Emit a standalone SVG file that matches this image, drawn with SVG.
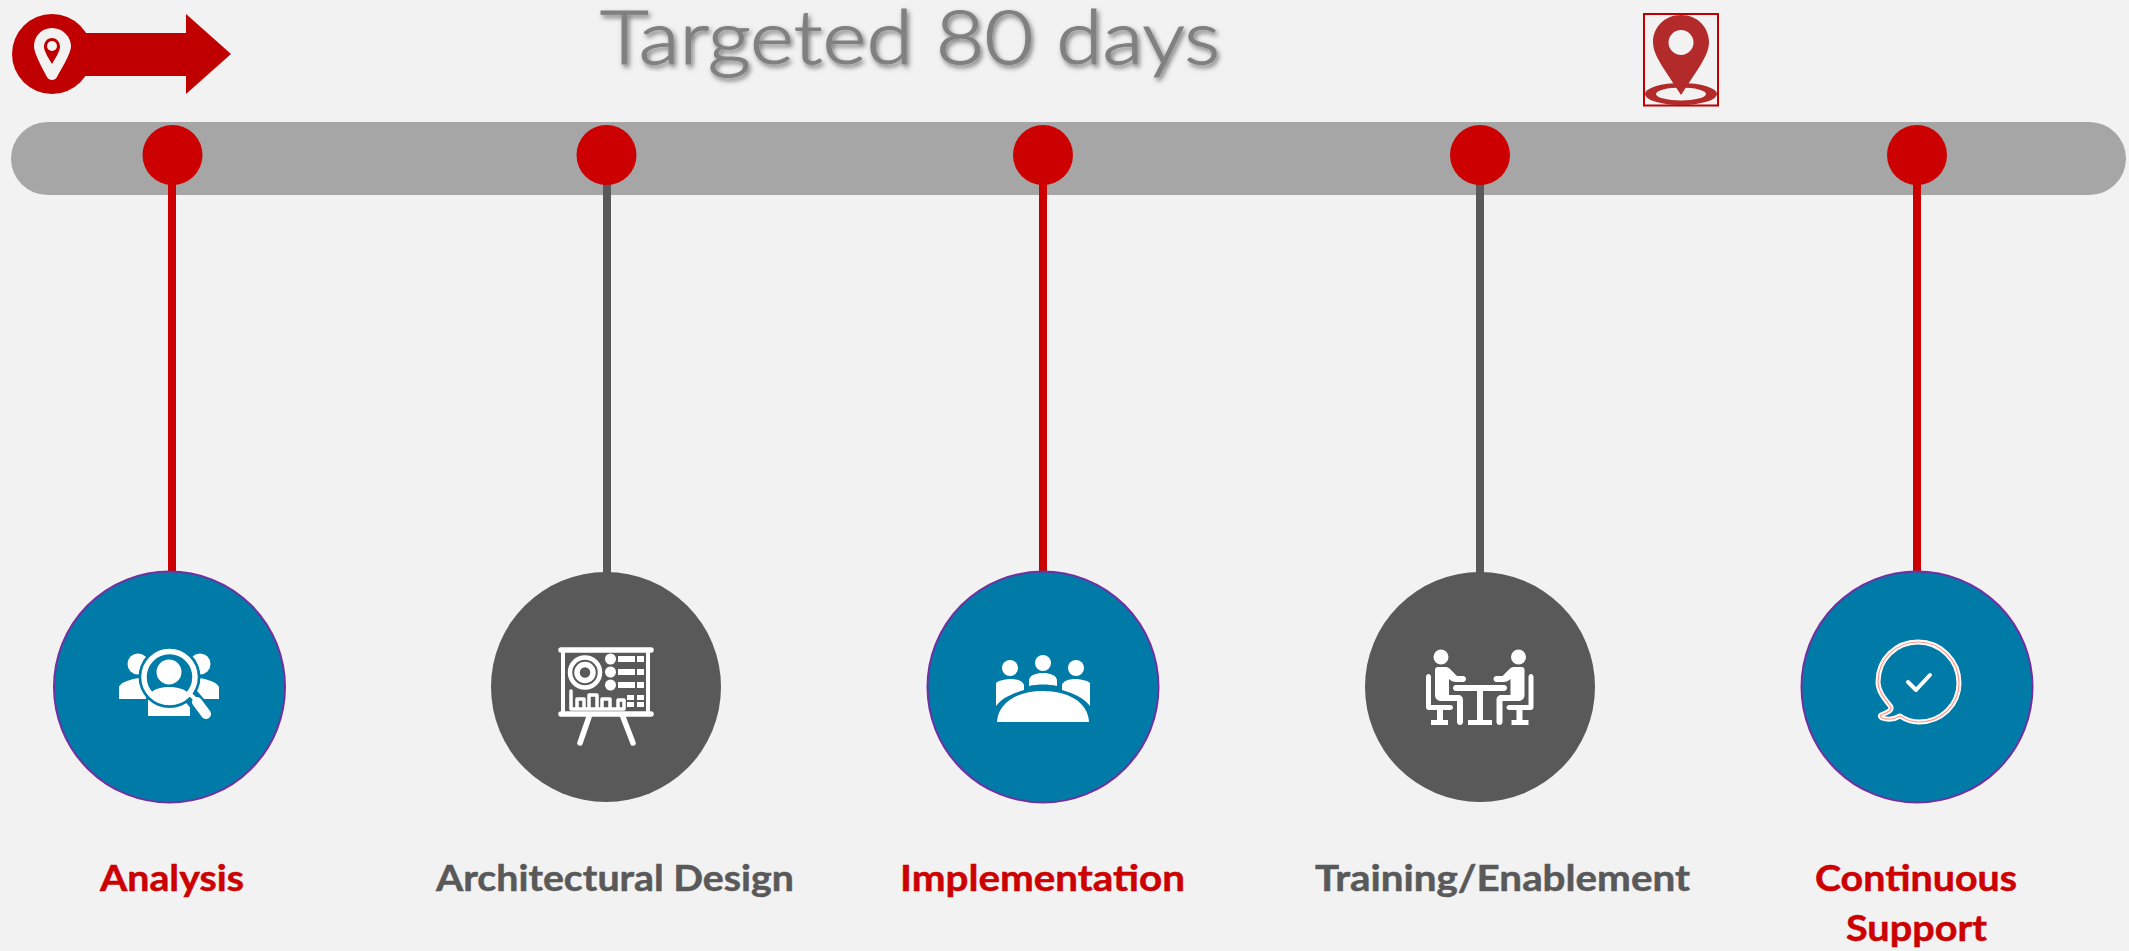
<svg xmlns="http://www.w3.org/2000/svg" width="2129" height="951" viewBox="0 0 2129 951">
<defs>
<style>
.lbl{font-family:"Lato","Noto Sans",sans-serif;font-weight:700;font-size:37px;stroke-width:.5px}
.r{fill:#cc0000;stroke:#cc0000}.g{fill:#595959;stroke:#595959}
.blue{fill:#007ba7;stroke:#7030a0;stroke-width:2}
.dark{fill:#595959}
.dot{fill:#cc0000}
.w{fill:#fff}
.wl{fill:none;stroke:#fff;stroke-linecap:round;stroke-linejoin:round}
</style>
<filter id="sh" x="-5%" y="-20%" width="110%" height="150%"><feDropShadow dx="2" dy="3" stdDeviation="2.500" flood-color="#000" flood-opacity="0.5"/></filter>
</defs>
<rect width="2129" height="951" fill="#f2f2f2"/>
<g id="start-arrow">
<path d="M85 33H186V14L231 54L186 94V76H85Z" fill="#c00000"/>
<circle cx="52" cy="54" r="40" fill="#c00000"/>
<path fill="#f2f2f2" d="M52 28C41 28 34 37 34 46C34 54 44 71 47 77C49 81 55 81 57 77C60 71 71 54 71 46C71 37 63 28 52 28Z"/>
<path fill="#c00000" d="M52 38C47 38 44 42 44 47C44 51 49 59 52 64C55 59 60 51 60 47C60 42 57 38 52 38Z"/>
<circle cx="52" cy="46" r="5" fill="#f2f2f2"/>
</g>
<g id="title"><text x="600" y="64" font-family="Lato,'Noto Sans',sans-serif" font-weight="300" font-size="74" fill="#808080" stroke="#808080" stroke-width="1.200" filter="url(#sh)" textLength="620" lengthAdjust="spacingAndGlyphs">Targeted 80 days</text></g>
<g id="location-pin">
<rect x="1644" y="14" width="74" height="91.500" fill="none" stroke="#c00000" stroke-width="2"/>
<path fill="#b22a2a" fill-rule="evenodd" d="M1645 94a36 11 0 1 0 72 0a36 11 0 1 0-72 0ZM1656 94a25 6.500 0 1 1 50 0a25 6.500 0 1 1-50 0Z"/>
<path fill="#b22a2a" fill-rule="evenodd" d="M1681 15C1664 15 1653 28 1653 42C1653 51 1658 59 1662 66L1681 95L1700 66C1704 59 1709 51 1709 42C1709 28 1698 15 1681 15ZM1681 30a12.500 12.500 0 1 1 0 25a12.500 12.500 0 1 1 0-25Z"/>
</g>
<g id="timeline-bar"><rect x="11" y="122" width="2115" height="73" rx="36.500" fill="#a6a6a6"/></g>
<g id="connectors">
<rect x="168" y="155" width="8" height="418" fill="#cc0000"/>
<rect x="603" y="155" width="8" height="418" fill="#595959"/>
<rect x="1039" y="155" width="8" height="418" fill="#cc0000"/>
<rect x="1476" y="155" width="8" height="418" fill="#595959"/>
<rect x="1913" y="155" width="8" height="418" fill="#cc0000"/>
</g>
<g id="dots">
<circle class="dot" cx="172.500" cy="155" r="30"/>
<circle class="dot" cx="606.500" cy="155" r="30"/>
<circle class="dot" cx="1043" cy="155" r="30"/>
<circle class="dot" cx="1480" cy="155" r="30"/>
<circle class="dot" cx="1917" cy="155" r="30"/>
</g>
<g id="node-analysis">
<circle class="blue" cx="169.500" cy="687" r="115.500"/>
<circle class="w" cx="138" cy="664" r="10.500"/><circle class="w" cx="200" cy="664" r="10.500"/>
<path class="w" d="M119 699V687C121 681 136 678 146 677V699ZM219 699V687C217 681 202 678 192 677V699Z"/>
<rect class="w" x="148" y="700" width="42" height="16"/>
<circle cx="169.500" cy="677" r="31" fill="#007ba7"/>
<path d="M190 695L207 715" stroke="#007ba7" stroke-width="16" stroke-linecap="round"/>
<circle cx="169.500" cy="677" r="25.500" fill="none" stroke="#fff" stroke-width="5.500"/>
<circle class="w" cx="169" cy="672" r="12.500"/>
<path class="w" d="M150 694C154 689 160 687 169 687C178 687 185 689 189 694C184 700 177 703 169 703C161 703 155 700 150 694Z"/>
<path class="wl" d="M190 694L195 699" stroke-width="4"/>
<path class="wl" d="M197 702L206 714" stroke-width="10"/>
</g>
<g id="node-architectural-design">
<circle class="dark" cx="606" cy="687" r="115"/>
<path class="wl" d="M561 650H651M561 714H651" stroke-width="5.500"/>
<path class="wl" d="M563 650V714M648 650V714" stroke-width="4"/>
<path class="wl" d="M589 717L580 743M623 717L633 743" stroke-width="5.500"/>
<circle cx="585" cy="672.500" r="15" fill="none" stroke="#fff" stroke-width="4.500"/>
<circle cx="585" cy="672.500" r="8" fill="none" stroke="#fff" stroke-width="5.500"/>
<circle class="w" cx="610.500" cy="659" r="5.500"/><circle class="w" cx="610.500" cy="672" r="5.500"/><circle class="w" cx="610.500" cy="685" r="5.500"/>
<path class="w" d="M618 656h17v6h-17zM637 656h7v6h-7zM618 669h17v6h-17zM637 669h7v6h-7zM618 682h17v6h-17zM637 682h7v6h-7zM627 695h7v5h-7zM637 695h7v5h-7zM627 702h7v5h-7zM637 702h7v5h-7z"/>
<path class="wl" d="M571 691V709H624V700H618V708M577 708V699H584V708M589 708V695H597V708M602 708V699H610V708" stroke-width="3.500"/>
</g>
<g id="node-implementation">
<circle class="blue" cx="1043" cy="687" r="115.500"/>
<circle class="w" cx="1010" cy="668" r="8"/><circle class="w" cx="1043" cy="663" r="8"/><circle class="w" cx="1076" cy="668" r="8"/>
<path class="w" d="M1029 686V680C1030 675 1036 673 1043 673C1050 673 1056 675 1057 680V686C1048 684 1038 684 1029 686Z"/>
<path class="w" d="M996 706V683C999 680 1007 679 1011 679C1017 679 1023 681 1024 685V690C1011 694 1002 698 996 706Z"/>
<path class="w" d="M1090 706V683C1087 680 1079 679 1075 679C1069 679 1063 681 1062 685V690C1075 694 1084 698 1090 706Z"/>
<path class="w" d="M997 722C998 702 1018 691 1043 691C1068 691 1088 702 1089 722Z"/>
</g>
<g id="node-training">
<circle class="dark" cx="1480" cy="687" r="115"/>
<circle class="w" cx="1441" cy="657" r="7.500"/><circle class="w" cx="1518.500" cy="657" r="7.500"/>
<path class="w" d="M1438 667H1446C1448 667 1449 668 1450 669L1457 676H1463C1467 676 1467 682 1463 682H1456C1453 682 1451 681 1449 679V695H1458C1461 695 1463 697 1463 700V722C1463 726 1457 726 1457 722V701H1442C1438 701 1435 699 1435 695V670C1435 668 1436 667 1438 667Z"/>
<path class="w" d="M1426 677C1426 673 1431 673 1431 677V705H1450C1454 705 1454 710 1450 710H1443V720H1448V725H1431V720H1437V710H1429C1427 710 1426 709 1426 707Z"/>
<path class="w" transform="translate(2959.500 0) scale(-1 1)" d="M1438 667H1446C1448 667 1449 668 1450 669L1457 676H1463C1467 676 1467 682 1463 682H1456C1453 682 1451 681 1449 679V695H1458C1461 695 1463 697 1463 700V722C1463 726 1457 726 1457 722V701H1442C1438 701 1435 699 1435 695V670C1435 668 1436 667 1438 667Z"/>
<path class="w" transform="translate(2959.500 0) scale(-1 1)" d="M1426 677C1426 673 1431 673 1431 677V705H1450C1454 705 1454 710 1450 710H1443V720H1448V725H1431V720H1437V710H1429C1427 710 1426 709 1426 707Z"/>
<path class="w" d="M1456 685H1504C1508 685 1508 691 1504 691H1483V720H1492V725H1468V720H1477V691H1456C1452 691 1452 685 1456 685Z"/>
</g>
<g id="node-continuous-support">
<circle class="blue" cx="1917" cy="687" r="115.500"/>
<path fill="none" stroke="#fff" stroke-width="5" stroke-linejoin="round" d="M1891 707C1884 698 1878 691 1878 682C1878 659 1896 642 1918 642C1941 642 1959 661 1959 683C1959 705 1941 722 1919 722C1911 722 1906 720 1900 716C1895 719 1888 720 1882 718C1880 717 1880 716 1881 715C1886 713 1892 711 1891 707Z"/>
<path fill="none" stroke="#ff9a90" stroke-width="1.200" stroke-linejoin="round" d="M1891 707C1884 698 1878 691 1878 682C1878 659 1896 642 1918 642C1941 642 1959 661 1959 683C1959 705 1941 722 1919 722C1911 722 1906 720 1900 716C1895 719 1888 720 1882 718C1880 717 1880 716 1881 715C1886 713 1892 711 1891 707Z"/>
<path class="wl" d="M1908 682L1916 690L1930 675" stroke-width="4"/>
</g>
<g id="labels">
<text class="lbl r" x="100" y="890.500" textLength="144" lengthAdjust="spacingAndGlyphs">Analysis</text>
<text class="lbl g" x="436" y="890.500" textLength="358" lengthAdjust="spacingAndGlyphs">Architectural Design</text>
<text class="lbl r" x="900" y="890.500" textLength="285" lengthAdjust="spacingAndGlyphs">Implementation</text>
<text class="lbl g" x="1315" y="890.500" textLength="375" lengthAdjust="spacingAndGlyphs">Training/Enablement</text>
<text class="lbl r" x="1815" y="890.500" textLength="202" lengthAdjust="spacingAndGlyphs">Continuous</text>
<text class="lbl r" x="1846" y="941" textLength="141" lengthAdjust="spacingAndGlyphs">Support</text>
</g>
</svg>
